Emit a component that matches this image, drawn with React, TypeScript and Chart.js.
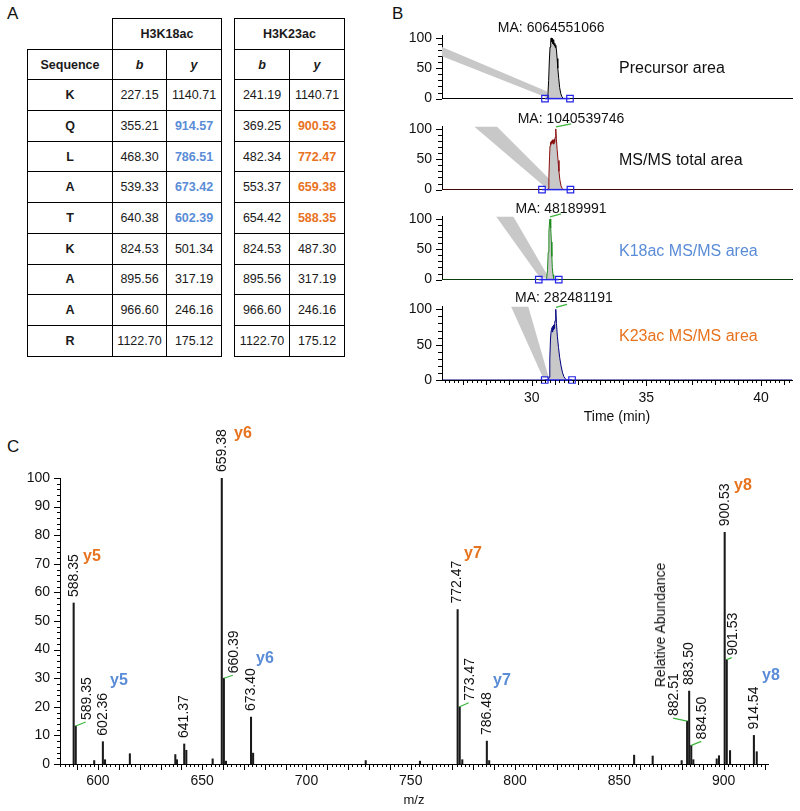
import React, { useEffect, useRef } from 'react';
import { Chart, registerables } from 'chart.js';

Chart.register(...registerables);

const FONT = '"Liberation Sans", Arial, Helvetica, sans-serif';
const BLUE = '#5A8CD7';
const ORANGE = '#E8731E';
const GREEN = '#3DB53D';

// ---------------- Panel A data ----------------
const residues = ['K', 'Q', 'L', 'A', 'T', 'K', 'A', 'A', 'R'];
const k18b = ['227.15', '355.21', '468.30', '539.33', '640.38', '824.53', '895.56', '966.60', '1122.70'];
const k18y = ['1140.71', '914.57', '786.51', '673.42', '602.39', '501.34', '317.19', '246.16', '175.12'];
const k23b = ['241.19', '369.25', '482.34', '553.37', '654.42', '824.53', '895.56', '966.60', '1122.70'];
const k23y = ['1140.71', '900.53', '772.47', '659.38', '588.35', '487.30', '317.19', '246.16', '175.12'];
const highlightedRows = [1, 2, 3, 4];

// ---------------- Panel B data ----------------
const timeRange = [26.09, 41.35];
const timeTickLabels = [30, 35, 40];
const intensityTickLabels = [0, 50, 100];

const precursorTrace: [number, number][] = [
  [26.09, 0], [30.62, 0], [30.68, 1], [30.71, 8], [30.74, 30], [30.77, 62], [30.8, 85], [30.83, 96],
  [30.85, 100], [30.87, 94], [30.89, 99], [30.91, 91], [30.93, 97], [30.95, 89], [30.97, 95], [30.99, 87],
  [31.01, 91], [31.03, 84], [31.05, 88], [31.08, 80], [31.11, 66], [31.14, 50], [31.18, 33], [31.22, 18],
  [31.27, 8], [31.32, 3], [31.38, 0], [41.35, 0],
];
const totalTrace: [number, number][] = [
  [26.09, 0], [30.68, 0], [30.72, 2], [30.75, 20], [30.78, 55], [30.8, 72], [30.82, 78], [30.84, 74],
  [30.86, 80], [30.88, 76], [30.9, 82], [30.92, 77], [30.94, 81], [30.96, 75], [30.98, 83], [31.0, 78],
  [31.02, 86], [31.04, 95], [31.06, 100], [31.08, 82], [31.11, 66], [31.15, 48], [31.19, 30], [31.23, 16],
  [31.28, 6], [31.33, 2], [31.38, 0], [41.35, 0],
];
const k18Trace: [number, number][] = [
  [26.09, 0], [30.6, 0], [30.65, 2], [30.69, 15], [30.72, 45], [30.75, 78], [30.78, 95], [30.8, 100],
  [30.82, 96], [30.84, 85], [30.86, 62], [30.88, 38], [30.9, 20], [30.93, 8], [30.96, 2], [30.99, 0], [41.35, 0],
];
const k23Trace: [number, number][] = [
  [26.09, 0], [30.72, 0], [30.76, 4], [30.79, 30], [30.82, 58], [30.85, 70], [30.88, 74], [30.9, 68],
  [30.92, 76], [30.94, 71], [30.96, 78], [30.98, 73], [31.0, 80], [31.02, 84], [31.04, 96], [31.06, 100],
  [31.08, 80], [31.12, 62], [31.17, 46], [31.22, 32], [31.28, 20], [31.34, 11], [31.4, 5], [31.46, 2],
  [31.53, 0], [41.35, 0],
];
const traces = [precursorTrace, totalTrace, k18Trace, k23Trace];
const boundaries = [[30.58, 31.67], [30.45, 31.69], [30.31, 31.18], [30.57, 31.76]];
const bands: [number, number][][] = [
  [[26.09, 85], [30.65, 12], [30.76, 0], [26.09, 70]],
  [[27.49, 104], [28.48, 104], [31.15, 3], [30.62, 3]],
  [[28.45, 104], [29.2, 104], [30.75, 3], [30.36, 3]],
  [[29.1, 104], [29.85, 104], [30.75, 3], [30.5, 3]],
];
const maLabels = ['MA: 6064551066', 'MA: 1040539746', 'MA: 48189991', 'MA: 282481191'];
const traceTitles = ['Precursor area', 'MS/MS total area', 'K18ac MS/MS area', 'K23ac MS/MS area'];

// ---------------- Panel C data ----------------
const mzValues = [
  588.35, 589.35, 598.2, 602.36, 603.4, 615.3, 637.1, 637.9, 641.37, 642.37, 655.0, 659.38, 660.39, 661.4,
  673.40, 674.40, 728.4, 754.4, 772.47, 773.47, 774.7, 786.48, 787.6, 857.1, 866.0, 879.9, 882.51, 883.50,
  884.50, 885.5, 896.7, 897.8, 900.53, 901.53, 903.1, 914.54, 915.9,
];
const intensities = [
  56.3, 13.3, 1.2, 7.8, 1.5, 3.6, 3.3, 1.5, 7.0, 4.8, 1.8, 100, 30, 1.0,
  16.4, 3.8, 1.2, 1.0, 54, 20, 1.5, 8, 1.2, 3.1, 2.8, 1.2, 15, 25.5,
  6.5, 1.5, 1.8, 2.9, 81, 36.5, 4.7, 10, 4.3,
];
const labelledPeaks = [
  588.35, 589.35, 602.36, 641.37, 659.38, 660.39, 673.40, 772.47, 773.47, 786.48,
  882.51, 883.50, 884.50, 900.53, 901.53, 914.54,
];
const mzTickLabels = [600, 650, 700, 750, 800, 850, 900];
const abundanceTickLabels = [0, 10, 20, 30, 40, 50, 60, 70, 80, 90, 100];
const orangeIons = ['y5', 'y6', 'y7', 'y8'];
const blueIons = ['y5', 'y6', 'y7', 'y8'];

// ---------------- styling (positions) ----------------
const leaderOffsets: [number, number, number][] = [
  [589.35, 10, -4], [660.39, 9, -3], [773.47, 9, -4], [882.51, -14, -3], [884.50, 10, -4], [901.53, 5, -2],
];
const maOffsets = [
  { dx: 0, dy: -10, leader: null as null | [number, number] },
  { dx: 15, dy: -10, leader: [15, -5] as [number, number] },
  { dx: 11, dy: -10, leader: [11, -5] as [number, number] },
  { dx: 8, dy: -11, leader: [11, -5] as [number, number] },
];
const traceColors = ['#000000', '#8B1010', '#1E8B1E', '#00007F'];
const titleColors = ['#111', '#111', BLUE, ORANGE];
const titleCenters = [68.3, 159.5, 251, 336];
const chromBaselines = [109, 200, 290, 380];
const orangeIonPos = [[92, 556], [243, 433], [473, 553], [743, 485]];
const blueIonPos = [[119, 679.5], [265, 658], [502, 679.5], [771, 674.5]];

// ---------------- plugins ----------------
type TickSpec = { axis: 'x' | 'y'; minor: number; major: number; mid?: number; minorLen: number; midLen?: number; majorLen: number };
function makeTickPlugin(specs: TickSpec[]) {
  return {
    id: 'customTicks',
    afterDraw(chart: any) {
      const ctx = chart.ctx;
      ctx.save();
      ctx.strokeStyle = '#000';
      ctx.lineWidth = 1;
      for (const s of specs) {
        const sc = chart.scales[s.axis];
        const k0 = Math.ceil(sc.min / s.minor - 1e-6);
        const k1 = Math.floor(sc.max / s.minor + 1e-6);
        ctx.beginPath();
        for (let k = k0; k <= k1; k++) {
          const v = k * s.minor;
          const isMajor = Math.abs(v / s.major - Math.round(v / s.major)) < 1e-6;
          const isMid = s.mid ? Math.abs(v / s.mid - Math.round(v / s.mid)) < 1e-6 : false;
          const len = isMajor ? s.majorLen : isMid ? (s.midLen as number) : s.minorLen;
          const p = sc.getPixelForValue(v);
          if (s.axis === 'y') {
            const x = chart.chartArea.left;
            const yy = Math.round(p) + 0.5;
            ctx.moveTo(x - len, yy);
            ctx.lineTo(x, yy);
          } else {
            const y = chart.chartArea.bottom;
            const xx = Math.round(p) + 0.5;
            ctx.moveTo(xx, y);
            ctx.lineTo(xx, y + len);
          }
        }
        ctx.stroke();
      }
      ctx.restore();
    },
  };
}

function makeMaPlugin(i: number) {
  return {
    id: 'maLabel',
    afterDatasetsDraw(chart: any) {
      const ctx = chart.ctx;
      const tr = traces[i];
      let apex = tr[0];
      for (const p of tr) if (p[1] > apex[1]) apex = p;
      const ax = chart.scales.x.getPixelForValue(apex[0]);
      const ay = chart.scales.y.getPixelForValue(apex[1]);
      const o = maOffsets[i];
      ctx.save();
      if (o.leader) {
        ctx.strokeStyle = GREEN;
        ctx.lineWidth = 1.2;
        ctx.beginPath();
        ctx.moveTo(ax, ay - 2);
        ctx.lineTo(ax + o.leader[0], ay + o.leader[1]);
        ctx.stroke();
      }
      ctx.font = `14px ${FONT}`;
      ctx.fillStyle = '#111';
      ctx.textAlign = 'center';
      ctx.textBaseline = 'middle';
      ctx.fillText(maLabels[i], ax + o.dx, ay + o.dy);
      ctx.restore();
    },
  };
}

const peakLabelPlugin = {
  id: 'peakLabels',
  afterDatasetsDraw(chart: any) {
    const ctx = chart.ctx;
    const xs = chart.scales.x;
    const ys = chart.scales.y;
    ctx.save();
    ctx.font = `14px ${FONT}`;
    ctx.fillStyle = '#111';
    for (const mz of labelledPeaks) {
      const idx = mzValues.indexOf(mz);
      const h = intensities[idx];
      const px = xs.getPixelForValue(mz);
      const py = ys.getPixelForValue(h);
      const lead = leaderOffsets.find((l) => l[0] === mz);
      let tx = px;
      let ty = py - 6;
      if (lead) {
        ctx.strokeStyle = GREEN;
        ctx.lineWidth = 1.2;
        ctx.beginPath();
        ctx.moveTo(px, py);
        ctx.lineTo(px + lead[1], py + lead[2]);
        ctx.stroke();
        tx = px + lead[1] + 1;
        ty = py + lead[2] - 2;
      }
      ctx.save();
      ctx.translate(tx, ty);
      ctx.rotate(-Math.PI / 2);
      ctx.textAlign = 'left';
      ctx.textBaseline = 'middle';
      ctx.fillText(mz.toFixed(2), 0, 0);
      ctx.restore();
    }
    ctx.restore();
  },
};

// ---------------- chart configs ----------------
function chromConfig(i: number): any {
  const last = i === 3;
  const tickSpecs: TickSpec[] = [{ axis: 'y', minor: 10, major: 50, minorLen: 4, majorLen: 6 }];
  if (last) tickSpecs.push({ axis: 'x', minor: 0.2, major: 5, mid: 1, minorLen: 3, midLen: 5, majorLen: 6 });
  return {
    type: 'line',
    data: {
      datasets: [
        {
          data: boundaries[i].map((t) => ({ x: t, y: 0 })),
          borderColor: '#2424E6',
          borderWidth: 1.5,
          backgroundColor: 'rgba(255,255,255,0)',
          pointStyle: 'rect',
          pointRadius: 4.6,
          pointBorderWidth: 1.2,
          pointBorderColor: '#2424E6',
          pointBackgroundColor: 'rgba(255,255,255,0)',
          fill: false,
          clip: false,
        },
        {
          data: traces[i].map((p) => ({ x: p[0], y: p[1] })),
          borderColor: traceColors[i],
          borderWidth: 1,
          backgroundColor: '#C8C8C8',
          fill: 'origin',
          pointRadius: 0,
          tension: 0,
        },
        {
          data: bands[i].map((p) => ({ x: p[0], y: p[1] })),
          borderWidth: 0,
          borderColor: 'rgba(0,0,0,0)',
          backgroundColor: '#C8C8C8',
          fill: 'shape',
          pointRadius: 0,
          tension: 0,
        },
      ],
    },
    options: {
      responsive: false,
      animation: false,
      devicePixelRatio: 1,
      layout: { padding: { top: 21.5, right: 8, bottom: last ? 0 : 8, left: 0 } },
      plugins: { legend: { display: false }, tooltip: { enabled: false } },
      scales: {
        x: {
          type: 'linear',
          min: timeRange[0],
          max: timeRange[1],
          grid: { display: false, drawTicks: false },
          border: { color: '#000', width: 1 },
          ticks: { display: last, font: { family: FONT, size: 14 }, color: '#111', padding: 10, maxRotation: 0, autoSkip: false },
          afterBuildTicks: (s: any) => { s.ticks = timeTickLabels.map((v) => ({ value: v })); },
          afterFit: (s: any) => { s.height = last ? 46 : 0; },
          title: { display: last, text: 'Time (min)', font: { family: FONT, size: 14 }, color: '#111', padding: { top: 0, bottom: 0 } },
        },
        y: {
          type: 'linear',
          min: 0,
          max: 104,
          grid: { display: false, drawTicks: false },
          border: { color: '#000', width: 1 },
          ticks: { font: { family: FONT, size: 14 }, color: '#111', padding: 10 },
          afterBuildTicks: (s: any) => { s.ticks = intensityTickLabels.map((v) => ({ value: v })); },
          afterFit: (s: any) => { s.width = 42; },
        },
      },
    },
    plugins: [makeTickPlugin(tickSpecs), makeMaPlugin(i)],
  };
}

function spectrumConfig(): any {
  return {
    type: 'bar',
    data: {
      datasets: [
        {
          data: mzValues.map((m, k) => ({ x: m, y: intensities[k] })),
          backgroundColor: '#1a1a1a',
          borderWidth: 0,
          barThickness: 1.4,
        },
      ],
    },
    options: {
      responsive: false,
      animation: false,
      devicePixelRatio: 1,
      layout: { padding: { top: 58, right: 32, bottom: 0, left: 0 } },
      plugins: { legend: { display: false }, tooltip: { enabled: false } },
      scales: {
        x: {
          type: 'linear',
          min: 581.8,
          max: 921.3,
          offset: false,
          grid: { display: false, drawTicks: false, offset: false },
          border: { color: '#000', width: 1 },
          ticks: { font: { family: FONT, size: 14 }, color: '#111', padding: 9, maxRotation: 0, autoSkip: false },
          afterBuildTicks: (s: any) => { s.ticks = mzTickLabels.map((v) => ({ value: v })); },
          afterFit: (s: any) => { s.height = 47; },
          title: { display: true, text: 'm/z', font: { family: FONT, size: 13 }, color: '#111', padding: { top: 0, bottom: 3 } },
        },
        y: {
          type: 'linear',
          min: 0,
          max: 100,
          grid: { display: false, drawTicks: false },
          border: { color: '#000', width: 1 },
          ticks: { font: { family: FONT, size: 14 }, color: '#111', padding: 10 },
          afterBuildTicks: (s: any) => { s.ticks = abundanceTickLabels.map((v) => ({ value: v })); },
          afterFit: (s: any) => { s.width = 60; },
        },
      },
    },
    plugins: [
      makeTickPlugin([
        { axis: 'y', minor: 2, major: 10, minorLen: 3, majorLen: 6 },
        { axis: 'x', minor: 2, major: 10, minorLen: 3, majorLen: 6 },
      ]),
      peakLabelPlugin,
    ],
  };
}

// ---------------- components ----------------
function ChartBox({ left, top, width, height, make }: { left: number; top: number; width: number; height: number; make: () => any }) {
  const ref = useRef<HTMLCanvasElement | null>(null);
  useEffect(() => {
    const chart = new Chart(ref.current as HTMLCanvasElement, make());
    return () => chart.destroy();
  }, []);
  return (
    <div style={{ position: 'absolute', left, top, width, height }}>
      <canvas ref={ref} width={width} height={height} style={{ width, height, display: 'block' }} />
    </div>
  );
}

function Txt({ x, y, size, children, color = '#111', weight = 'normal', rotate = 0, align = 'center' }: any) {
  const tx = align === 'center' ? '-50%' : '0';
  return (
    <div
      style={{
        position: 'absolute',
        left: x,
        top: y,
        fontSize: size,
        lineHeight: 1,
        color,
        fontWeight: weight,
        whiteSpace: 'nowrap',
        transform: `translate(${tx}, -50%)${rotate ? ` rotate(${rotate}deg)` : ''}`,
      }}
    >
      {children}
    </div>
  );
}

const ROWH = 30.7;
const cell: React.CSSProperties = {
  border: '1px solid #000',
  textAlign: 'center',
  verticalAlign: 'middle',
  padding: 0,
  fontSize: 12.5,
  color: '#1a1a1a',
  whiteSpace: 'nowrap',
  overflow: 'hidden',
};
const bold: React.CSSProperties = { ...cell, fontWeight: 'bold' };
const boldItalic: React.CSSProperties = { ...cell, fontWeight: 'bold', fontStyle: 'italic' };

function valueCell(v: string, row: number, color: string) {
  const hl = highlightedRows.indexOf(row) >= 0;
  return <td style={hl ? { ...cell, fontWeight: 'bold', color } : cell}>{v}</td>;
}

function TableA() {
  const tableStyle: React.CSSProperties = {
    position: 'absolute',
    top: 18,
    borderCollapse: 'collapse',
    tableLayout: 'fixed',
    fontFamily: FONT,
  };
  return (
    <>
      <table style={{ ...tableStyle, left: 27, width: 194 }}>
        <colgroup>
          <col style={{ width: 85 }} />
          <col style={{ width: 54 }} />
          <col style={{ width: 55 }} />
        </colgroup>
        <tbody>
          <tr style={{ height: ROWH }}>
            <td style={{ border: 'none', padding: 0 }} />
            <td colSpan={2} style={bold}>H3K18ac</td>
          </tr>
          <tr style={{ height: ROWH }}>
            <td style={bold}>Sequence</td>
            <td style={boldItalic}>b</td>
            <td style={boldItalic}>y</td>
          </tr>
          {residues.map((r, k) => (
            <tr key={k} style={{ height: ROWH }}>
              <td style={bold}>{r}</td>
              <td style={cell}>{k18b[k]}</td>
              {valueCell(k18y[k], k, BLUE)}
            </tr>
          ))}
        </tbody>
      </table>
      <table style={{ ...tableStyle, left: 234, width: 110 }}>
        <colgroup>
          <col style={{ width: 55 }} />
          <col style={{ width: 55 }} />
        </colgroup>
        <tbody>
          <tr style={{ height: ROWH }}>
            <td colSpan={2} style={bold}>H3K23ac</td>
          </tr>
          <tr style={{ height: ROWH }}>
            <td style={boldItalic}>b</td>
            <td style={boldItalic}>y</td>
          </tr>
          {residues.map((r, k) => (
            <tr key={k} style={{ height: ROWH }}>
              <td style={cell}>{k23b[k]}</td>
              {valueCell(k23y[k], k, ORANGE)}
            </tr>
          ))}
        </tbody>
      </table>
    </>
  );
}

export default function App() {
  return (
    <div
      style={{
        position: 'absolute',
        left: 0,
        top: 0,
        width: 800,
        height: 811,
        background: '#fff',
        fontFamily: FONT,
        color: '#111',
        overflow: 'hidden',
      }}
    >
      <div style={{ position: 'absolute', left: 7, top: 4.5, fontSize: 17, lineHeight: '17px' }}>A</div>
      <div style={{ position: 'absolute', left: 392, top: 4.5, fontSize: 17, lineHeight: '17px' }}>B</div>
      <div style={{ position: 'absolute', left: 7, top: 437.5, fontSize: 17, lineHeight: '17px' }}>C</div>

      <TableA />

      {chromBaselines.map((y0, i) => (
        <ChartBox key={i} left={400} top={y0 - 95} width={400} height={i === 3 ? 141 : 103} make={() => chromConfig(i)} />
      ))}
      {traceTitles.map((t, i) => (
        <Txt key={t} x={619} y={titleCenters[i]} size={16} color={titleColors[i]} align="left">
          {t}
        </Txt>
      ))}

      <ChartBox left={0} top={420} width={800} height={391} make={spectrumConfig} />

      {orangeIons.map((t, i) => (
        <Txt key={'o' + i} x={orangeIonPos[i][0]} y={orangeIonPos[i][1]} size={16} weight="bold" color={ORANGE}>
          {t}
        </Txt>
      ))}
      {blueIons.map((t, i) => (
        <Txt key={'b' + i} x={blueIonPos[i][0]} y={blueIonPos[i][1]} size={16} weight="bold" color={BLUE}>
          {t}
        </Txt>
      ))}
      <Txt x={660} y={625} size={14} rotate={-90}>
        Relative Abundance
      </Txt>
    </div>
  );
}
